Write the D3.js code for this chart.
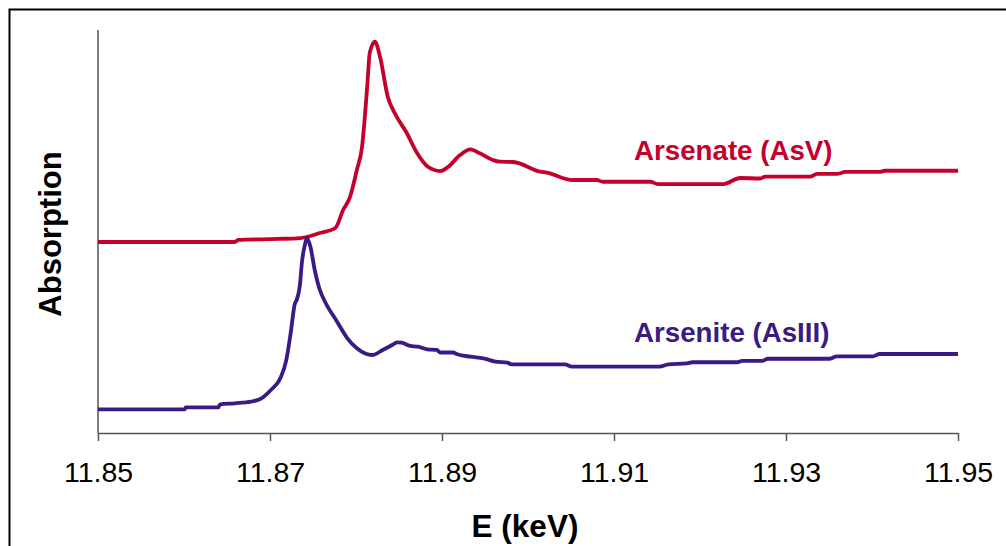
<!DOCTYPE html>
<html>
<head>
<meta charset="utf-8">
<script src="https://cdn.jsdelivr.net/npm/d3@7"></script>
<style>
  html, body { margin: 0; padding: 0; background: #fff; }
  svg { display: block; }
  text { font-family: "Liberation Sans", Arial, sans-serif; }
</style>
</head>
<body>
<svg id="chart" width="1006" height="546"></svg>
<script>
// ---- Data ----
const xTicks = [11.85, 11.87, 11.89, 11.91, 11.93, 11.95];

const arsenateE = [11.85, 11.8659, 11.8663, 11.8709, 11.8735, 11.8758, 11.8776, 11.8785, 11.8793, 11.8801,
  11.8807, 11.8813, 11.8816, 11.8822, 11.8828, 11.8837, 11.8845, 11.8859, 11.8871, 11.8884,
  11.8898, 11.8907, 11.8921, 11.8933, 11.8944, 11.8959, 11.8967, 11.8983, 11.9014, 11.9022,
  11.9052, 11.9080, 11.9087, 11.9142, 11.9151, 11.9227, 11.9247, 11.9270, 11.9276, 11.9328,
  11.9336, 11.9359, 11.9369, 11.9409, 11.9415, 11.95];
const arsenateA = [1.896, 1.896, 1.916, 1.926, 1.935, 1.985, 2.035, 2.213, 2.342, 2.610,
  2.839, 3.434, 3.772, 3.884, 3.732, 3.335, 3.176, 2.978, 2.779, 2.640,
  2.600, 2.640, 2.759, 2.816, 2.776, 2.710, 2.693, 2.690, 2.594, 2.584,
  2.511, 2.511, 2.494, 2.494, 2.471, 2.471, 2.531, 2.526, 2.544, 2.544,
  2.571, 2.571, 2.591, 2.591, 2.603, 2.603];

const arseniteE = [11.85, 11.8601, 11.8602, 11.8640, 11.8642, 11.8659, 11.8678, 11.8690, 11.8701, 11.8712,
  11.8719, 11.8724, 11.8729, 11.8731, 11.8735, 11.8737, 11.8741, 11.8743, 11.8747, 11.8752,
  11.8758, 11.8764, 11.8778, 11.8790, 11.8801, 11.8819, 11.8831, 11.8842, 11.8848, 11.8853,
  11.8863, 11.8872, 11.8883, 11.8894, 11.8898, 11.8913, 11.8917, 11.8933, 11.8948, 11.8962,
  11.8976, 11.8981, 11.9043, 11.9051, 11.9153, 11.9163, 11.9185, 11.9191, 11.9243, 11.9249,
  11.9272, 11.9279, 11.9351, 11.9359, 11.9401, 11.9409, 11.95];
const arseniteA = [0.235, 0.235, 0.255, 0.255, 0.285, 0.295, 0.311, 0.344, 0.427, 0.543,
  0.725, 0.990, 1.287, 1.320, 1.486, 1.684, 1.883, 1.933, 1.849, 1.618,
  1.419, 1.303, 1.105, 0.940, 0.841, 0.774, 0.824, 0.873, 0.900, 0.896,
  0.864, 0.857, 0.831, 0.824, 0.799, 0.799, 0.784, 0.757, 0.741, 0.708,
  0.698, 0.682, 0.682, 0.658, 0.658, 0.682, 0.692, 0.702, 0.702, 0.715,
  0.715, 0.737, 0.737, 0.761, 0.761, 0.784, 0.784];

const seriesNames = ["Arsenate (AsV)", "Arsenite (AsIII)"];
const seriesColors = ["#c4002c", "#3a1a84"];
const xTitle = "E (keV)";
const yTitle = "Absorption";

// ---- Layout ----
const svg = d3.select("#chart");
const plotL = 98, plotR = 958, plotT = 30, plotB = 433;

const x = d3.scaleLinear().domain([11.85, 11.95]).range([plotL, plotR]);
const y = d3.scaleLinear().domain([0, 4]).range([plotB, plotT]);

// outer frame
svg.append("rect")
  .attr("x", 9.5).attr("y", 9.5)
  .attr("width", 1100).attr("height", 600)
  .attr("fill", "none").attr("stroke", "#000").attr("stroke-width", 2);

// y axis (no ticks)
svg.append("line")
  .attr("x1", plotL).attr("x2", plotL)
  .attr("y1", plotT).attr("y2", plotB)
  .attr("stroke", "#555").attr("stroke-width", 1.5);

// x axis
const xAxis = d3.axisBottom(x)
  .tickValues(xTicks)
  .tickFormat(d3.format(".2f"))
  .tickSizeInner(8).tickSizeOuter(0).tickPadding(21);

const gx = svg.append("g")
  .attr("transform", `translate(0,${plotB})`)
  .call(xAxis);
gx.select(".domain").attr("stroke", "#555").attr("stroke-width", 1.5);
gx.selectAll(".tick line").attr("stroke", "#555").attr("stroke-width", 1.5);
gx.selectAll(".tick text")
  .attr("fill", "#000")
  .style("font-size", "28.5px")
  .style("font-family", "'Liberation Sans', Arial, sans-serif");

// lines
const line = d3.line().x(d => x(d[0])).y(d => y(d[1])).curve(d3.curveMonotoneX);
const dataSets = [
  d3.zip(arsenateE, arsenateA),
  d3.zip(arseniteE, arseniteA)
];
dataSets.forEach((ds, i) => {
  svg.append("path")
    .datum(ds)
    .attr("d", line)
    .attr("fill", "none")
    .attr("stroke", seriesColors[i])
    .attr("stroke-width", 3.8)
    .attr("stroke-linejoin", "round")
    .attr("stroke-linecap", "butt");
});

// series labels
const labelPos = [[634, 160], [634, 342]];
seriesNames.forEach((n, i) => {
  svg.append("text")
    .attr("x", labelPos[i][0]).attr("y", labelPos[i][1])
    .attr("fill", seriesColors[i])
    .style("font-size", "27.7px").style("font-weight", "bold")
    .text(n);
});

// axis titles
svg.append("text")
  .attr("x", 525).attr("y", 537)
  .attr("text-anchor", "middle")
  .style("font-size", "31.5px").style("font-weight", "bold")
  .text(xTitle);

svg.append("text")
  .attr("transform", `translate(61,234) rotate(-90)`)
  .attr("text-anchor", "middle")
  .style("font-size", "31px").style("font-weight", "bold")
  .text(yTitle);
</script>
</body>
</html>
